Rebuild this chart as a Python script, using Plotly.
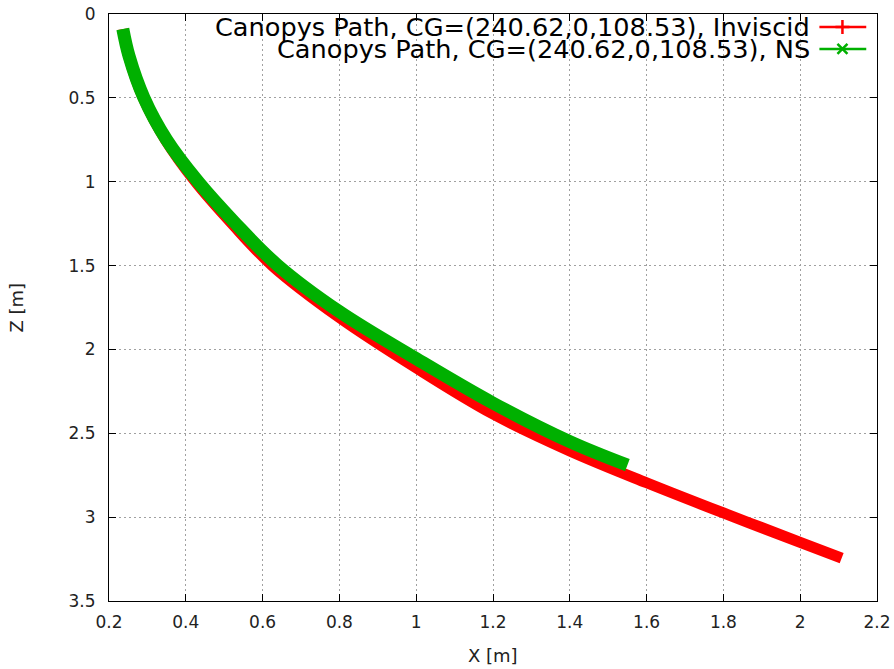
import plotly.graph_objects as go

# Canopy centre-of-gravity path, inviscid solver (x, z in metres)
inv_x = [0.236, 0.251, 0.289, 0.347, 0.425, 0.520, 0.625, 0.800, 1.000,
         1.200, 1.400, 1.600, 1.800, 2.000, 2.108]
inv_z = [0.090, 0.250, 0.500, 0.750, 1.000, 1.250, 1.500, 1.810, 2.110,
         2.385, 2.605, 2.795, 2.975, 3.150, 3.245]

# Canopy centre-of-gravity path, Navier-Stokes solver
ns_x = [0.236, 0.252, 0.291, 0.350, 0.432, 0.530, 0.640, 0.800, 1.000,
        1.200, 1.400, 1.550]
ns_z = [0.090, 0.250, 0.500, 0.750, 1.000, 1.250, 1.500, 1.775, 2.055,
        2.320, 2.550, 2.690]

x_ticks = [0.2, 0.4, 0.6, 0.8, 1.0, 1.2, 1.4, 1.6, 1.8, 2.0, 2.2]
z_ticks = [0, 0.5, 1, 1.5, 2, 2.5, 3, 3.5]

names = ["Canopys Path, CG=(240.62,0,108.53), Inviscid",
         "Canopys Path, CG=(240.62,0,108.53), NS"]
colors = ["#ff0000", "#00b000"]
symbols = ["cross-thin", "x-thin"]

FONT = "DejaVu Sans"
TEXT = "#222222"

fig = go.Figure()
fig.add_trace(go.Scatter(x=inv_x, y=inv_z, mode="lines", name=names[0],
                         line=dict(color=colors[0], width=11, shape="spline"),
                         showlegend=False))
fig.add_trace(go.Scatter(x=ns_x, y=ns_z, mode="lines", name=names[1],
                         line=dict(color=colors[1], width=13, shape="spline"),
                         showlegend=False))

# Key in the top-right corner: text first, then sample line with point symbol
key_rows_y = [0.978, 0.9405]
for i in range(2):
    fig.add_trace(go.Scatter(x=[0.925, 0.955, 0.986], y=[key_rows_y[i]] * 3,
                             xaxis="x2", yaxis="y2", mode="lines",
                             line=dict(color=colors[i], width=2.5),
                             showlegend=False, hoverinfo="skip"))
    fig.add_trace(go.Scatter(x=[0.955], y=[key_rows_y[i]],
                             xaxis="x2", yaxis="y2", mode="markers",
                             marker=dict(symbol=symbols[i], size=10,
                                         line=dict(color=colors[i], width=2.5)),
                             showlegend=False, hoverinfo="skip"))
    fig.add_annotation(x=0.916, y=key_rows_y[i], xref="x2", yref="y2",
                       text=names[i], showarrow=False, xanchor="right",
                       yanchor="middle",
                       font=dict(family=FONT, size=25.6, color="#000000"))

# Axis titles
fig.add_annotation(x=0.5, y=-0.092, xref="paper", yref="paper", text="X [m]",
                   showarrow=False, xanchor="center", yanchor="middle",
                   font=dict(family=FONT, size=18, color=TEXT))
fig.add_annotation(x=-0.121, y=0.5, xref="paper", yref="paper", text="Z [m]",
                   showarrow=False, xanchor="center", yanchor="middle", textangle=-90,
                   font=dict(family=FONT, size=18, color=TEXT))

axis_common = dict(showline=True, linecolor="#000000", linewidth=1, mirror="ticks",
                   ticks="inside", ticklen=7, tickcolor="#000000",
                   showgrid=True, gridcolor="#a0a0a0", gridwidth=1,
                   griddash="2px,3px", zeroline=False, automargin=False,
                   tickfont=dict(family=FONT, size=17, color=TEXT))

fig.update_layout(
    width=894, height=669,
    margin=dict(l=109, r=17, t=14, b=68, autoexpand=False),
    paper_bgcolor="#ffffff", plot_bgcolor="#ffffff",
    xaxis=dict(range=[0.2, 2.2], tickvals=x_ticks,
               ticktext=[f"{v:g}" for v in x_ticks],
               ticklabelstandoff=6, **axis_common),
    yaxis=dict(range=[3.5, 0], tickvals=z_ticks,
               ticktext=[f"{v:g}" for v in z_ticks],
               ticklabelstandoff=9, **axis_common),
    xaxis2=dict(domain=[0, 1], range=[0, 1], overlaying="x", visible=False,
                fixedrange=True, automargin=False),
    yaxis2=dict(domain=[0, 1], range=[0, 1], overlaying="y", visible=False,
                fixedrange=True, anchor="x2", automargin=False),
    showlegend=False,
)

fig.write_html("out.html")
